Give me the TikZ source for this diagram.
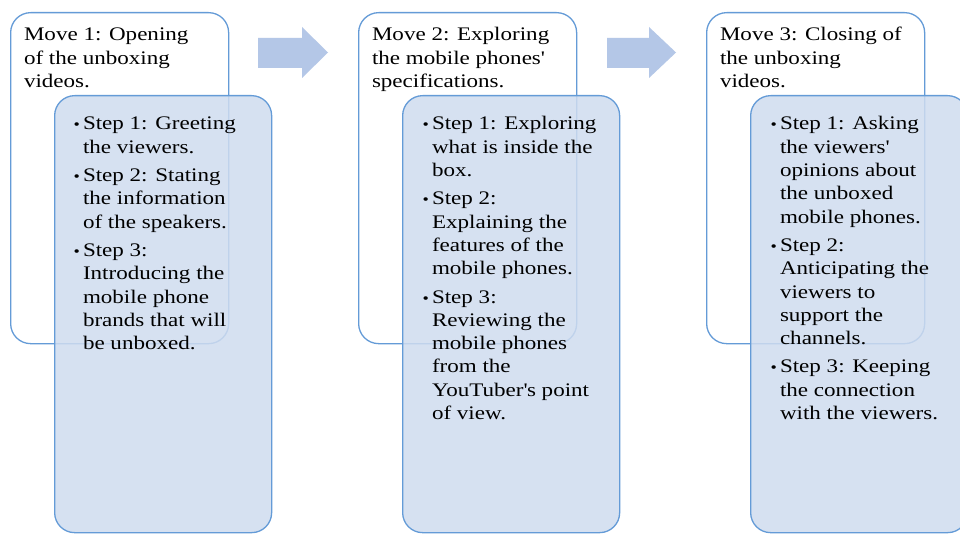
\documentclass[tikz,border=0pt]{standalone}
\usepackage{fontspec}
\setmainfont{Liberation Serif}[FakeStretch=1.2]
\definecolor{boxline}{RGB}{100,155,215}
\definecolor{innerfill}{RGB}{207,220,239}
\definecolor{arrowfill}{RGB}{180,199,231}
\newcommand{\bul}{\llap{{\fontsize{15pt}{15pt}\selectfont •}\hspace{3pt}}}
\tikzset{
  outerbox/.style={draw=boxline, line width=1.3pt, fill=white, rounded corners=20pt,
    anchor=north west, minimum width=218pt, minimum height=331pt, inner sep=0pt},
  innerbox/.style={draw=boxline, line width=1.3pt, fill=innerfill, fill opacity=0.85,
    rounded corners=20pt, anchor=north west, minimum width=217pt, minimum height=437pt, inner sep=0pt},
  txt/.style={anchor=base west, inner sep=0pt, outer sep=0pt, text=black,
    font=\fontsize{19.2pt}{23.3pt}\selectfont},
  blockarrow/.style={fill=arrowfill, draw=none},
}
\begin{document}
\begin{tikzpicture}[x=1pt,y=-1pt]
\useasboundingbox (0,0) rectangle (960,534);
\clip (0,0) rectangle (960,534);
\fill[white] (0,0) rectangle (960,534);

% block arrows
\fill[blockarrow] (258,38) -- (302,38) -- (302,27) -- (328,52.5) -- (302,78) -- (302,68) -- (258,68) -- cycle;
\fill[blockarrow] (607,38) -- (649,38) -- (649,27) -- (676,52.5) -- (649,78) -- (649,68) -- (607,68) -- cycle;

% Move 1
\node[outerbox] (m1) at (10,12) {};
\node[txt] (t1) at (24,41) {\begin{tabular}[t]{@{}l@{}}Move 1: Opening\\of the unboxing\\videos.\end{tabular}};
\node[innerbox] (i1) at (54,95) {};
\node[txt] (s1) at (83,130) {\begin{tabular}[t]{@{}l@{}}
\bul Step 1: Greeting\\ the viewers.\\[5pt]
\bul Step 2: Stating\\ the information\\ of the speakers.\\[5pt]
\bul Step 3:\\ Introducing the\\ mobile phone\\ brands that will\\ be unboxed.
\end{tabular}};

% Move 2
\node[outerbox] (m2) at (358,12) {};
\node[txt] (t2) at (372,41) {\begin{tabular}[t]{@{}l@{}}Move 2: Exploring\\the mobile phones\textquotesingle\\specifications.\end{tabular}};
\node[innerbox] (i2) at (402,95) {};
\node[txt] (s2) at (432,130) {\begin{tabular}[t]{@{}l@{}}
\bul Step 1: Exploring\\ what is inside the\\ box.\\[5pt]
\bul Step 2:\\ Explaining the\\ features of the\\ mobile phones.\\[5pt]
\bul Step 3:\\ Reviewing the\\ mobile phones\\ from the\\ YouTuber\textquotesingle s point\\ of view.
\end{tabular}};

% Move 3
\node[outerbox] (m3) at (706,12) {};
\node[txt] (t3) at (720,41) {\begin{tabular}[t]{@{}l@{}}Move 3: Closing of\\the unboxing\\videos.\end{tabular}};
\node[innerbox] (i3) at (750,95) {};
\node[txt] (s3) at (780,130) {\begin{tabular}[t]{@{}l@{}}
\bul Step 1: Asking\\ the viewers\textquotesingle\\ opinions about\\ the unboxed\\ mobile phones.\\[5pt]
\bul Step 2:\\ Anticipating the\\ viewers to\\ support the\\ channels.\\[5pt]
\bul Step 3: Keeping\\ the connection\\ with the viewers.
\end{tabular}};
\end{tikzpicture}
\end{document}
